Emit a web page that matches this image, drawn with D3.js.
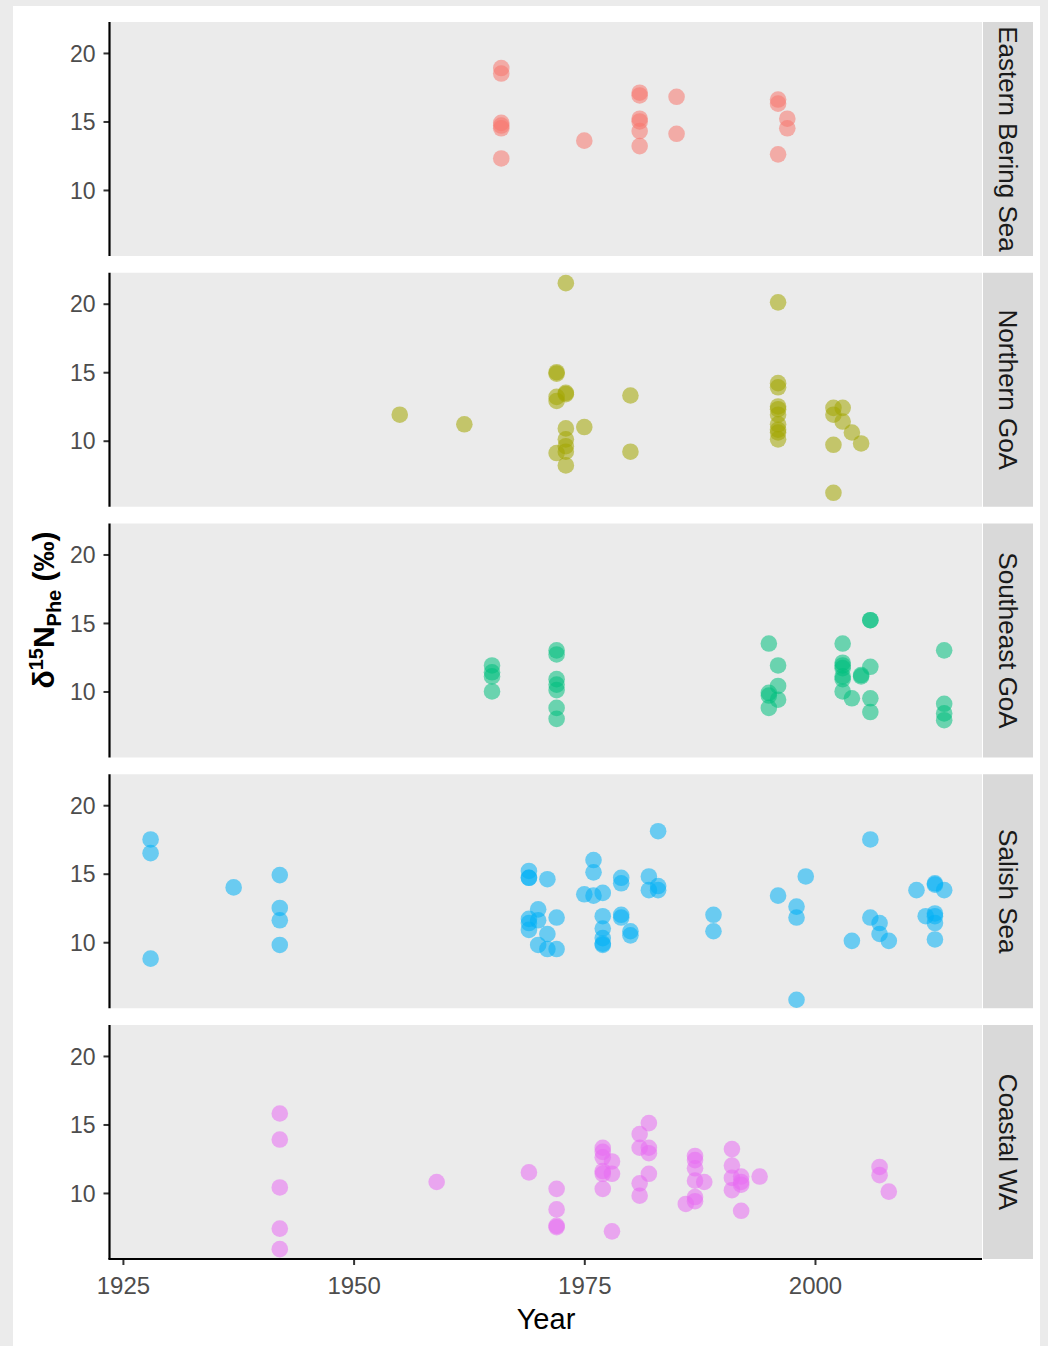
<!DOCTYPE html>
<html>
<head>
<meta charset="utf-8">
<script src="https://cdn.jsdelivr.net/npm/d3@7"></script>
<style>
  html, body { margin: 0; padding: 0; background: #ebebeb; }
  svg { display: block; font-family: "Liberation Sans", Arial, Helvetica, sans-serif; }
</style>
</head>
<body>
<svg id="chart" width="1048" height="1346"></svg>
<script>
// Facet labels, top to bottom
const regions = ["Eastern Bering Sea", "Northern GoA", "Southeast GoA", "Salish Sea", "Coastal WA"];
const regionColors = ["#F8766D", "#A3A500", "#00BF7D", "#00B0F6", "#E76BF3"];

// Sampling year and δ15N-Phe value (‰) for each specimen, per region
const yearsEBS  = [1966,1966,1966,1966,1966,1966,1975,1981,1981,1981,1981,1981,1981,1985,1985,1996,1996,1996,1997,1997];
const valuesEBS = [18.9,18.5,14.9,14.7,14.5,12.3,13.6,17.1,16.9,15.2,15.0,14.3,13.2,16.8,14.1,16.6,16.3,12.6,15.2,14.5];

const yearsNGOA  = [1955,1962,1972,1972,1972,1972,1972,1973,1973,1973,1973,1973,1973,1973,1973,1975,1980,1980,
                    1996,1996,1996,1996,1996,1996,1996,1996,1996,1996,2002,2002,2002,2002,2003,2003,2004,2005];
const valuesNGOA = [11.9,11.2,15.0,14.9,13.2,12.9,9.1,21.5,13.5,13.4,10.9,10.1,9.6,9.2,8.2,11.0,13.3,9.2,
                    20.1,14.2,13.9,12.5,12.3,11.9,11.2,10.8,10.6,10.1,12.4,11.9,9.7,6.2,12.4,11.4,10.6,9.8];

const yearsSEGOA  = [1965,1965,1965,1965,1972,1972,1972,1972,1972,1972,1972,1995,1995,1995,1995,1996,1996,1996,
                     2003,2003,2003,2003,2003,2003,2003,2004,2005,2005,2006,2006,2006,2006,2006,2014,2014,2014,2014];
const valuesSEGOA = [11.9,11.4,11.1,10.0,13.0,12.7,10.9,10.5,10.1,8.8,8.0,13.5,9.9,9.7,8.8,11.9,10.4,9.4,
                     13.5,12.1,11.9,11.7,11.1,10.9,10.0,9.5,11.2,11.1,15.2,15.2,11.8,9.5,8.5,13.0,9.1,8.4,7.9];

const yearsSS  = [1928,1928,1928,1937,1942,1942,1942,1942,1969,1969,1969,1969,1969,1969,1970,1970,1970,1971,1971,1971,
                  1972,1972,1975,1976,1976,1976,1977,1977,1977,1977,1977,1977,1979,1979,1979,1979,1980,1980,1982,1982,
                  1983,1983,1983,1989,1989,1996,1998,1998,1998,1999,2004,2006,2006,2007,2007,2008,2011,2012,
                  2013,2013,2013,2013,2013,2013,2014];
const valuesSS = [17.5,16.5,8.8,14.0,14.9,12.5,11.6,9.8,15.2,14.7,14.7,11.7,11.4,10.9,12.4,11.6,9.8,14.6,10.6,9.5,
                  11.8,9.5,13.5,16.0,15.1,13.4,13.6,11.9,11.0,10.3,9.9,9.8,14.7,14.3,12.0,11.8,10.8,10.5,14.8,13.8,
                  18.1,14.1,13.8,12.0,10.8,13.4,12.6,11.8,5.8,14.8,10.1,17.5,11.8,11.4,10.6,10.1,13.8,11.9,
                  14.3,14.2,12.1,11.9,11.4,10.2,13.8];

const yearsCWA  = [1942,1942,1942,1942,1942,1959,1969,1972,1972,1972,1972,1977,1977,1977,1977,1977,1977,1978,1978,1978,
                   1981,1981,1981,1981,1982,1982,1982,1982,1986,1987,1987,1987,1987,1987,1987,1988,
                   1991,1991,1991,1991,1992,1992,1992,1992,1994,2007,2007,2008];
const valuesCWA = [15.8,13.9,10.4,7.4,5.9,10.8,11.5,10.3,8.8,7.6,7.5,13.3,13.0,12.6,11.6,11.4,10.3,12.3,11.4,7.2,
                   14.3,13.3,10.7,9.8,15.1,13.3,12.9,11.4,9.2,12.7,12.4,11.8,10.9,9.7,9.4,10.8,
                   13.2,12.0,11.1,10.2,11.2,10.8,10.6,8.7,11.2,11.9,11.3,10.1];

const regionYears  = [yearsEBS, yearsNGOA, yearsSEGOA, yearsSS, yearsCWA];
const regionValues = [valuesEBS, valuesNGOA, valuesSEGOA, valuesSS, valuesCWA];

const xTicks = [1925, 1950, 1975, 2000];
const yTicks = [10, 15, 20];

// ---- layout ----
const svg = d3.select("#chart");
const plotLeft = 110, plotRight = 982;
const stripW = 50;
const panelTop0 = 22, panelH = 234, panelStep = 250.75;

// page background: light frame around white canvas
svg.append("rect").attr("x", 0).attr("y", 0).attr("width", 1048).attr("height", 1346).attr("fill", "#ebebeb");
svg.append("rect").attr("x", 13).attr("y", 6).attr("width", 1027).attr("height", 1340).attr("fill", "#ffffff");

const x = d3.scaleLinear().domain([1923.6, 2018.1]).range([plotLeft, plotRight]);
const y = d3.scaleLinear().domain([5.18, 22.26]).range([panelH, 0]);

regions.forEach((name, i) => {
  const top = panelTop0 + i * panelStep;
  const g = svg.append("g").attr("transform", `translate(0,${top})`);

  // panel background
  g.append("rect")
    .attr("x", plotLeft).attr("y", 0)
    .attr("width", plotRight - plotLeft).attr("height", panelH)
    .attr("fill", "#ebebeb");

  // facet strip
  g.append("rect")
    .attr("x", plotRight + 1).attr("y", 0)
    .attr("width", stripW).attr("height", panelH)
    .attr("fill", "#d9d9d9");
  g.append("text")
    .attr("transform", `translate(${plotRight + 1 + stripW / 2},${panelH / 2}) rotate(90)`)
    .attr("text-anchor", "middle")
    .attr("dominant-baseline", "central")
    .attr("font-size", 26)
    .attr("fill", "#1a1a1a")
    .text(name);

  // points
  const pts = regionYears[i].map((yr, k) => ({ year: yr, value: regionValues[i][k] }));
  g.append("g").selectAll("circle")
    .data(pts)
    .join("circle")
    .attr("cx", d => x(d.year))
    .attr("cy", d => y(d.value))
    .attr("r", 8.3)
    .attr("fill", regionColors[i])
    .attr("fill-opacity", 0.55);

  // y axis
  const ya = g.append("g")
    .attr("transform", `translate(${plotLeft - 0.5},0)`)
    .call(d3.axisLeft(y).tickValues(yTicks).tickSize(6).tickPadding(8));
  ya.select(".domain").remove();
  ya.selectAll(".tick line").attr("stroke", "#333333").attr("stroke-width", 2);
  ya.selectAll(".tick text")
    .attr("font-size", 23)
    .attr("font-family", "Liberation Sans, Arial, sans-serif")
    .attr("fill", "#4d4d4d")
    .attr("dy", "0.36em");
  g.append("line")
    .attr("x1", plotLeft - 0.5).attr("x2", plotLeft - 0.5)
    .attr("y1", 0).attr("y2", panelH)
    .attr("stroke", "#000").attr("stroke-width", 2.2);

  // x axis on the bottom panel only
  if (i === regions.length - 1) {
    const xa = g.append("g")
      .attr("transform", `translate(0,${panelH})`)
      .call(d3.axisBottom(x).tickValues(xTicks).tickFormat(d3.format("d")).tickSize(6).tickPadding(12));
    xa.select(".domain").remove();
    xa.selectAll(".tick line").attr("stroke", "#333333").attr("stroke-width", 2);
    xa.selectAll(".tick text")
      .attr("font-size", 24)
      .attr("font-family", "Liberation Sans, Arial, sans-serif")
      .attr("fill", "#4d4d4d");
    g.append("line")
      .attr("x1", plotLeft - 1.6).attr("x2", plotRight)
      .attr("y1", panelH).attr("y2", panelH)
      .attr("stroke", "#000").attr("stroke-width", 2.2);
  }
});

// axis titles
svg.append("text")
  .attr("x", (plotLeft + plotRight) / 2)
  .attr("y", 1329)
  .attr("text-anchor", "middle")
  .attr("font-size", 29)
  .attr("fill", "#000")
  .text("Year");

const yt = svg.append("text")
  .attr("transform", "translate(54,610) rotate(-90)")
  .attr("text-anchor", "middle")
  .attr("font-size", 30)
  .attr("font-weight", "bold")
  .attr("fill", "#000");
yt.append("tspan").text("δ");
yt.append("tspan").attr("font-size", 20).attr("dy", -11).text("15");
yt.append("tspan").attr("dy", 11).text("N");
yt.append("tspan").attr("font-size", 20).attr("dy", 7).text("Phe");
yt.append("tspan").attr("dy", -7).text(" (‰)");
</script>
</body>
</html>
